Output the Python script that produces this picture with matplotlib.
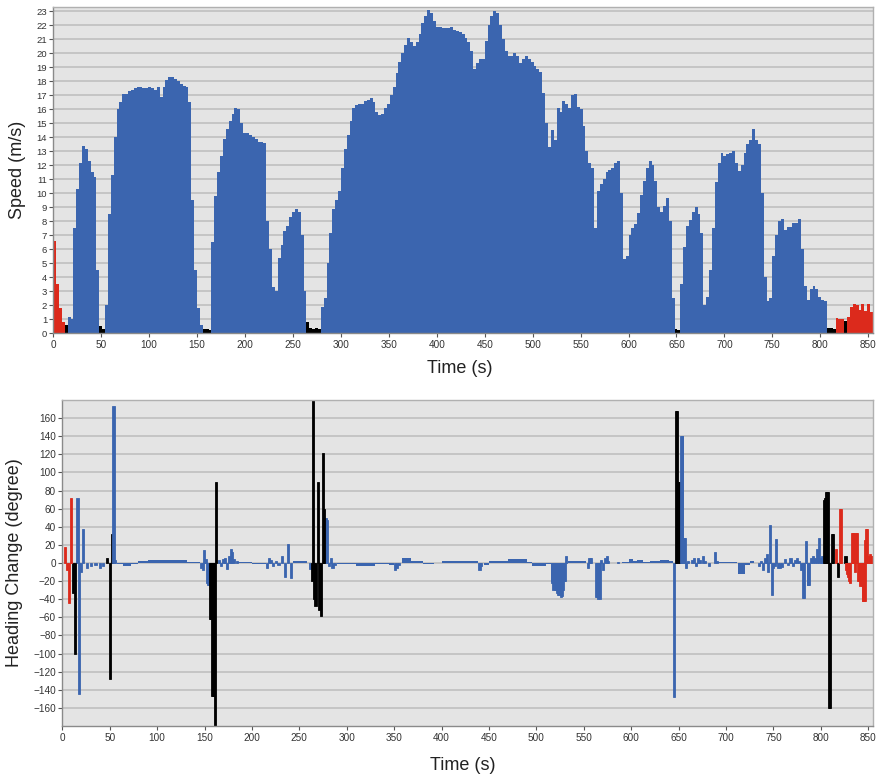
import numpy as np
import matplotlib
matplotlib.use("Agg")
import matplotlib.pyplot as plt

plt.rcParams['font.family'] = ['Liberation Sans', 'DejaVu Sans']

# ---------------- Speed (3-second bins starting at t = 0) ----------------
speed_bin_s = 3
speed_ms = [
    6.6, 3.5, 1.8, 0.8,                      # 0-9
    0.6,                                     # 12
    1.2, 1.0, 7.5, 10.3, 12.2, 13.4, 13.2, 12.3, 11.5, 11.2, 4.5,   # 15-45
    0.5, 0.3,                                # 48-51
    2.0, 8.5, 11.3, 14.0, 16.0, 16.5, 17.1, 17.1, 17.3, 17.4,       # 54-81
    17.5, 17.6, 17.6, 17.5, 17.5, 17.6, 17.5, 17.4, 17.6, 16.9,     # 84-111
    17.6, 18.1, 18.3, 18.3, 18.2, 18.0, 17.8, 17.7, 17.6, 16.5,     # 114-141
    9.5, 4.5, 1.8, 0.6,                      # 144-153
    0.3, 0.3, 0.25,                          # 156-162
    6.5, 9.8, 11.5, 12.7, 13.9, 14.6, 15.2, 15.7, 16.1, 16.0,       # 165-192
    15.0, 14.3, 14.3, 14.2, 14.0, 13.9, 13.7, 13.7, 13.6, 8.0,      # 195-222
    6.0, 3.3, 3.0, 5.4, 6.3, 7.3, 7.7, 8.3, 8.7, 8.9,               # 225-252
    8.7, 7.0, 3.0,                           # 255-261
    0.8, 0.4, 0.3, 0.35, 0.3,                # 264-276
    1.9, 2.5, 5.0, 7.2, 8.9, 9.5, 10.2, 11.8, 13.2, 14.2,           # 279-306
    15.2, 16.1, 16.3, 16.4, 16.4, 16.6, 16.7, 16.8, 16.5, 15.8,     # 309-336
    15.6, 15.7, 16.1, 16.4, 17.0, 17.6, 18.6, 19.4, 20.0, 20.6,     # 339-366
    21.1, 20.8, 20.5, 20.8, 21.4, 22.2, 22.7, 23.1, 22.9, 22.3,     # 369-396
    21.9, 21.9, 21.8, 21.8, 21.8, 21.9, 21.7, 21.6, 21.5, 21.4,     # 399-426
    21.1, 20.8, 20.2, 18.9, 19.3, 19.6, 19.6, 20.9, 22.0, 22.7,     # 429-456
    23.0, 22.9, 22.0, 21.0, 20.2, 19.8, 19.8, 20.0, 19.8, 19.3,     # 459-486
    19.6, 19.8, 19.6, 19.4, 19.1, 18.9, 18.7, 17.2, 15.0, 13.3,     # 489-516
    14.5, 13.8, 16.1, 15.8, 16.6, 16.4, 16.1, 17.0, 17.1, 16.2,     # 519-546
    16.0, 14.8, 13.0, 12.2, 11.8, 7.5, 10.2, 10.7, 11.0, 11.5,      # 549-576
    11.7, 11.8, 12.2, 12.3, 10.0, 5.3, 5.5, 7.0, 7.5, 7.8,          # 579-606
    8.6, 9.9, 10.9, 11.8, 12.3, 12.0, 10.9, 9.0, 8.7, 9.1,          # 609-636
    9.7, 8.0, 2.5,                           # 639-645
    0.3, 0.25,                               # 648-651
    3.5, 6.2, 7.7, 8.1, 8.7, 9.0, 8.5, 7.2, 2.0, 2.6,               # 654-681
    4.5, 7.5, 10.8, 12.2, 12.9, 12.7, 12.8, 12.9, 13.0, 12.2,       # 684-711
    11.6, 12.0, 12.9, 13.5, 13.8, 14.6, 13.8, 13.5, 10.0, 4.0,      # 714-741
    2.3, 2.5, 5.5, 7.0, 8.0, 8.2, 7.4, 7.6, 7.6, 7.9,               # 744-771
    7.9, 8.2, 6.0, 3.4, 2.4, 3.2, 3.4, 3.2, 2.6, 2.4,               # 774-801
    2.3,                                     # 804
    0.4, 0.4, 0.3,                           # 807-813
    1.1, 1.0, 1.0,                           # 816-822
    0.9,                                     # 825
    1.2, 1.9, 2.1, 2.0, 1.7, 2.1, 1.6, 2.1, 1.5, 2.1,               # 828-855
]

# phases (start time in s, kind) : r = red, k = black (stopped), b = blue (moving)
phase_start_s = [0, 12, 15, 48, 54, 156, 165, 264, 279, 648, 654, 807, 816, 825, 828]
phase_kind    = ['r', 'k', 'b', 'k', 'b', 'k', 'b', 'k', 'b', 'k', 'b', 'k', 'r', 'k', 'r']

# ---------------- Heading change events (1 s samples) ----------------
hc_time = [3, 5, 7, 9,
           11, 13,
           16, 18, 20, 22, 26, 30, 35, 40, 43,
           47, 50, 52,
           54, 56,
           146, 148, 149, 151, 153, 154, 155,
           156, 157, 158, 159, 160, 161, 162,
           165, 167, 170, 172, 174, 176, 178, 179, 181, 184,
           216, 218, 220, 222, 225, 228, 232, 235, 238, 241,
           261, 263, 264, 265, 267, 270, 271, 273, 275, 276,
           278, 279, 281, 283, 285, 288,
           351, 353, 355, 440, 442,
           516, 517, 518, 519, 520, 521, 522, 523, 524, 525, 526, 527, 528, 529, 530, 531,
           554, 556, 558, 563, 564, 565, 566, 567, 568, 570, 572, 574, 576, 586,
           645, 647, 648, 650, 651, 653, 654, 656, 657, 658, 660,
           664, 666, 668, 670, 672, 676, 678, 682, 688, 690,
           735, 737, 739, 741, 743, 744, 746, 748, 750, 752, 753, 755, 757, 759,
           762, 765, 768, 771, 773, 775, 777, 779, 781, 782, 784, 786, 787,
           790, 792, 794, 796, 798, 800, 801,
           803, 804, 805, 806, 807, 809, 810, 812, 813,
           816, 818, 820, 821, 826,
           827, 828, 829, 830, 831, 833, 834, 835, 836, 837, 838, 839, 840, 841,
           842, 843, 844, 845, 846, 847, 848, 849, 851, 852, 853, 854]
hc_value = [18, -8, -44, 72,
            -33, -100,
            72, -145, -10, 38, -5, -3, -2, -5, -3,
            5, -128, 32,
            173, 3,
            -5, -8, 14, 4, -22, -24, -24,
            -62, -62, -147, -147, -147, -180, 90,
            3, -3, 4, 5, -7, 8, 15, 12, 4, 2,
            -5, 5, 3, -3, 2, -2, 8, -16, 21, -17,
            -7, -20, 180, -40, -48, 90, -52, -59, 122, 60,
            50, 48, -3, 5, -5, -2,
            -8, -6, -2, -8, -3,
            -20, -22, -30, -28, -30, -30, -33, -35, -35, -30, -38, -36, -30, -20, -20, 8,
            -5, 5, 6, -38, -38, -40, -36, -40, 3, -8, 5, 8, 2, 1,
            -148, 168, 168, 90, 90, 140, 140, 28, 28, -5, 2,
            3, 5, -3, 5, 3, 8, 2, -3, 12, 2,
            -3, 2, -8, 5, 10, -10, 42, -35, -5, -3, 26, -5, -6, -4,
            4, -2, 5, -3, 3, 5, 2, -8, -39, -39, 24, -24, -24,
            5, 8, 5, 15, 28, 5, 8,
            70, 72, 72, 78, 78, -160, -160, 32, 32,
            15, -15, 60, 60, 8,
            -8, -12, -16, -20, -22, 33, 33, 33, -10, 33, 33, -20, -20, -25,
            -10, -25, -42, -42, -42, 25, 38, 38, 8, 10, 8, 8]
hc_kind = ("rrrr" "kk" "bbbbbbbbb" "kkk" "bb" "bbbbbbb" "kkkkkkk"
           "bbbbbbbbbb" "bbbbbbbbbb" "bkkkkkkkkk" "bbbbbb" "bbbbb"
           "bbbbbbbbbbbbbbbb" "bbbbbbbbbbbbbb" "bkkkkbbbbbb" "bbbbbbbbbb"
           "bbbbbbbbbbbbbb" "bbbbbbbbbbbbb" "bbbbbbb" "kkkkkkkkk"
           "rkrrk" "rrrrrrrrrrrrrr" "rrrrrrrrrrrr")

# small drift of heading while moving: (start s, end s, degree)
drift_start = [58, 64, 72, 80, 90, 132, 185, 200, 243, 290, 310, 330, 345,
               358, 368, 380, 400, 445, 450, 470, 490, 495, 510, 533,
               590, 598, 602, 606, 612, 620, 630, 640, 692, 713, 720, 725]
drift_end   = [64, 72, 80, 90, 132, 145, 200, 215, 258, 310, 330, 345, 350,
               368, 380, 392, 438, 450, 470, 490, 495, 510, 515, 552,
               598, 602, 606, 612, 620, 630, 640, 644, 712, 720, 725, 730]
drift_deg   = [-1, -3, -1, 2, 3, 1, 1, -1, 2, -1, -3, -1, -2,
               5, 2, -1, 2, -2, 2, 4, 1, -3, -1, 2,
               1, 4, 2, 3, 1, 2, 3, 2, 1, -12, -2, 2]

colors = {'r': '#dc2a1c', 'k': '#000000', 'b': '#3b65af'}

# ---------------- derive per-bin colours ----------------
speed = np.array(speed_ms)
t_bins = np.arange(len(speed)) * speed_bin_s
kind_bins = []
for t in t_bins:
    idx = np.searchsorted(phase_start_s, t, side='right') - 1
    kind_bins.append(phase_kind[idx])
bin_colors = [colors[k] for k in kind_bins]

W, H = 877, 777
fig = plt.figure(figsize=(W / 100, H / 100), dpi=100)

bg = '#e4e4e4'
grid_c = '#c2c2c2'
spine_c = '#8a8a8a'

def style_axes(ax):
    ax.set_facecolor(bg)
    ax.set_axisbelow(True)
    ax.yaxis.grid(True, color=grid_c, linewidth=1.3)
    ax.xaxis.grid(False)
    for s in ['left', 'bottom']:
        ax.spines[s].set_color(spine_c)
        ax.spines[s].set_linewidth(1.0)
    for s in ['top', 'right']:
        ax.spines[s].set_color('#b0b0b0')
        ax.spines[s].set_linewidth(1.0)
    ax.tick_params(axis='both', colors='#555555', labelcolor='#333333',
                   length=3, width=0.8, direction='out')

# ---------------- top: speed ----------------
ax1 = fig.add_axes([53.3 / W, 1 - 333.3 / H, (873 - 53.3) / W, (333.3 - 7.3) / H])
style_axes(ax1)
ax1.bar(t_bins, speed, width=speed_bin_s, align='edge', color=bin_colors,
        edgecolor='none', linewidth=0)
ax1.set_xlim(0, 855)
ax1.set_ylim(0, 23.3)
ax1.set_yticks(range(0, 24))
ax1.set_xticks(range(0, 851, 50))
ax1.tick_params(axis='y', labelsize=6.8, pad=1.5)
ax1.tick_params(axis='x', labelsize=7.2, pad=2)
fig.text(18 / W, 1 - 170 / H, 'Speed (m/s)', rotation=90, ha='center', va='center',
         fontsize=13, color='#222222')
fig.text(460 / W, 1 - 369 / H, 'Time (s)', ha='center', va='center',
         fontsize=13, color='#222222')

# ---------------- bottom: heading change ----------------
ax2 = fig.add_axes([62.3 / W, 1 - 726 / H, (873 - 62.3) / W, (726 - 400) / H])
style_axes(ax2)
ax2.bar(drift_start, np.array(drift_deg, dtype=float),
        width=np.array(drift_end) - np.array(drift_start), align='edge',
        color=colors['b'], edgecolor='none', linewidth=0)
# draw small changes first so big spikes stay on top
order = np.argsort(np.abs(np.array(hc_value)), kind='stable')
spike_cols = [colors[hc_kind[i]] for i in order]
ax2.bar(np.array(hc_time)[order], np.array(hc_value)[order], width=2.2, align='center',
        color=spike_cols, edgecolor=spike_cols, linewidth=0.6)
ax2.set_xlim(0, 855)
ax2.set_ylim(-180, 180)
ax2.set_yticks(range(-160, 161, 20))
ax2.set_xticks(range(0, 851, 50))
ax2.tick_params(axis='y', labelsize=7.2, pad=1.5)
ax2.tick_params(axis='x', labelsize=7.2, pad=2)
fig.text(15 / W, 1 - 563 / H, 'Heading Change (degree)', rotation=90, ha='center',
         va='center', fontsize=13, color='#222222')
fig.text(463 / W, 1 - 766 / H, 'Time (s)', ha='center', va='center',
         fontsize=13, color='#222222')

fig.savefig('out.png', dpi=100, facecolor='white')
